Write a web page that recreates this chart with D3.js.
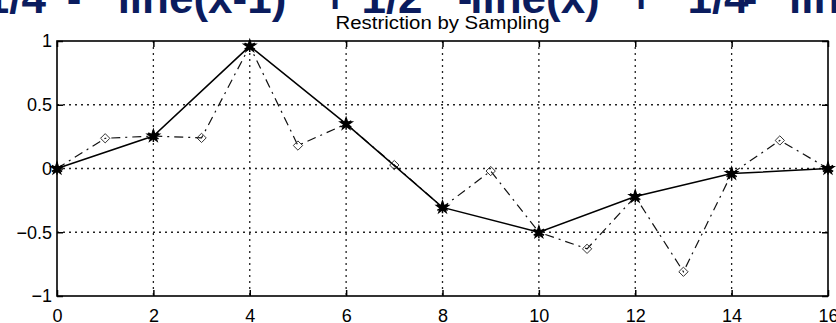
<!DOCTYPE html>
<head>
    <meta charset="utf-8">
    <style>
        body { margin: 0; background: #fff; }
        text { font-family: "Liberation Sans", Arial, sans-serif; }
    </style>
</head>
<body>
    <script src="https://d3js.org/d3.v7.min.js"></script>
    <script>
        const width = 836;
        const height = 323;

        // coarse samples (solid line, star markers)
        const coarseX = [0, 2, 4, 6, 8, 10, 12, 14, 16];
        const coarseY = [0, 0.255, 0.96, 0.35, -0.305, -0.5, -0.22, -0.04, 0];

        // fine samples (dash-dot line, diamond markers)
        const fineX = [0, 1, 2, 3, 4, 5, 6, 7, 8, 9, 10, 11, 12, 13, 14, 15, 16];
        const fineY = [0, 0.237, 0.255, 0.24, 0.96, 0.18, 0.35, 0.027, -0.305, -0.02, -0.5, -0.63, -0.22, -0.81, -0.04, 0.22, 0];

        const xTicks = [0, 2, 4, 6, 8, 10, 12, 14, 16];
        const yTicks = [-1, -0.5, 0, 0.5, 1];
        const title = "Restriction by Sampling";
        const banner = ["1/4", "-", "line(x-1)", "+", "1/2", "-", "line(x)", "+", "1/4", "-", "line"];

        const pl = 57, pr = 828, pt = 41, pb = 296;

        const svg = d3.select("body").append("svg")
            .attr("width", width).attr("height", height);

        // cropped formula line from the slide above the figure
        const bx = [46, 74, 202, 335, 392, 465, 535, 641, 718, 750, 789];
        svg.append("g").selectAll("text").data(banner).enter().append("text")
            .attr("x", (d, i) => bx[i])
            .attr("y", 13)
            .attr("text-anchor", (d, i) => i == 0 ? "end" : (i == banner.length - 1 ? "start" : "middle"))
            .attr("font-size", 44)
            .attr("font-weight", "bold")
            .attr("fill", "#0b1c5e")
            .text(d => d);

        const x = d3.scaleLinear().domain([0, 16]).range([pl, pr]);
        const y = d3.scaleLinear().domain([-1, 1]).range([pb, pt]);

        svg.append("text")
            .attr("x", (pl + pr) / 2)
            .attr("y", 29)
            .attr("text-anchor", "middle")
            .attr("font-size", 18)
            .attr("textLength", 214)
            .attr("lengthAdjust", "spacingAndGlyphs")
            .text(title);

        // grid
        const grid = svg.append("g").attr("stroke", "#222").attr("stroke-width", 1.3)
            .attr("stroke-dasharray", "2,4");
        grid.selectAll(".gx").data(xTicks.slice(1, -1)).enter().append("line")
            .attr("x1", d => x(d)).attr("x2", d => x(d))
            .attr("y1", pt).attr("y2", pb);
        grid.selectAll(".gy").data(yTicks.slice(1, -1)).enter().append("line")
            .attr("x1", pl).attr("x2", pr)
            .attr("y1", d => y(d)).attr("y2", d => y(d));

        // axes
        const fmt = d3.format("");
        const ax = svg.append("g").attr("transform", `translate(0,${pb})`)
            .call(d3.axisBottom(x).tickValues(xTicks).tickSize(-6).tickPadding(18).tickFormat(fmt));
        svg.append("g").attr("transform", `translate(0,${pt})`)
            .call(d3.axisTop(x).tickValues(xTicks).tickSize(-6).tickFormat(""));
        const ay = svg.append("g").attr("transform", `translate(${pl},0)`)
            .call(d3.axisLeft(y).tickValues(yTicks).tickSize(-6).tickPadding(5).tickFormat(fmt));
        svg.append("g").attr("transform", `translate(${pr},0)`)
            .call(d3.axisRight(y).tickValues(yTicks).tickSize(-6).tickFormat(""));

        svg.selectAll(".domain").remove();
        svg.selectAll(".tick line").attr("stroke", "#000").attr("stroke-width", 1.5);
        svg.selectAll(".tick text").attr("fill", "#000").attr("font-size", 18)
            .attr("font-family", "'Liberation Sans', Arial, sans-serif");
        ax.selectAll(".tick text").attr("dy", "0.32em").attr("y", 20);

        svg.append("rect")
            .attr("x", pl).attr("y", pt).attr("width", pr - pl).attr("height", pb - pt)
            .attr("fill", "none").attr("stroke", "#000").attr("stroke-width", 1.6);

        const line = d3.line().x(d => x(d[0])).y(d => y(d[1]));
        const fine = fineX.map((v, i) => [v, fineY[i]]);
        const coarse = coarseX.map((v, i) => [v, coarseY[i]]);

        svg.append("path").datum(fine)
            .attr("d", line).attr("fill", "none")
            .attr("stroke", "#111").attr("stroke-width", 1.2)
            .attr("stroke-dasharray", "9,5,2,5");

        svg.append("g").selectAll("path").data(fine.filter((d, i) => i % 2 == 1)).enter().append("path")
            .attr("transform", d => `translate(${x(d[0])},${y(d[1])})`)
            .attr("d", d3.symbol(d3.symbolDiamond2, 55))
            .attr("fill", "none").attr("stroke", "#333").attr("stroke-width", 1);

        svg.append("path").datum(coarse)
            .attr("d", line).attr("fill", "none")
            .attr("stroke", "#000").attr("stroke-width", 1.5);

        const stars = svg.append("g").selectAll("g").data(coarse).enter().append("g")
            .attr("transform", d => `translate(${x(d[0])},${y(d[1])})`);
        stars.append("path")
            .attr("d", d3.symbol(d3.symbolStar, 80))
            .attr("fill", "#000");
        stars.append("path")
            .attr("d", d3.symbol(d3.symbolAsterisk, 100))
            .attr("fill", "none").attr("stroke", "#000").attr("stroke-width", 1.5);
    </script>
</body>
</html>
